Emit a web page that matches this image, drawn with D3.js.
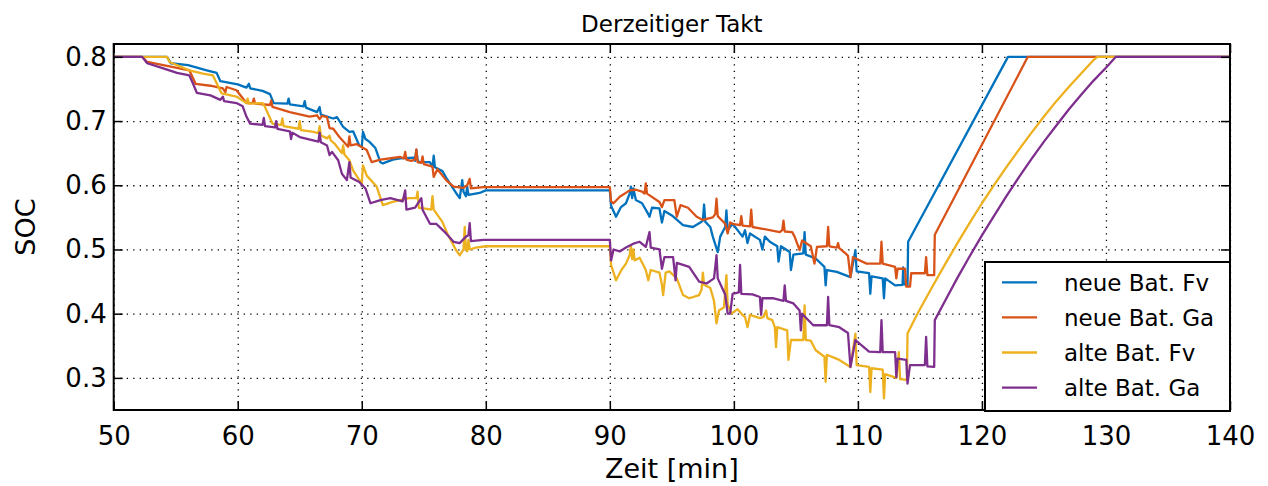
<!DOCTYPE html>
<html><head><meta charset="utf-8">
<script src="https://cdn.jsdelivr.net/npm/d3@7"></script>
<style>
html,body{margin:0;padding:0;background:#fff;}
text{font-family:"DejaVu Sans",sans-serif;fill:#000;}
</style></head>
<body><svg id="c" width="1268" height="486"></svg>
<script>
// ---- data ----
const title = "Derzeitiger Takt";
const xLabel = "Zeit [min]";
const yLabel = "SOC";
const xTicks = [50,60,70,80,90,100,110,120,130,140];
const yTicks = [0.3,0.4,0.5,0.6,0.7,0.8];
const seriesNames = ["neue Bat. Fv","neue Bat. Ga","alte Bat. Fv","alte Bat. Ga"];
const seriesColors = ["#0072BD","#D95319","#EDB120","#7E2F8E"];

const neueFv = [[50,0.8],[54.3,0.8],[54.6,0.79],[56,0.787],[57.5,0.779],[58.3,0.775],[58.6,0.762],[60,0.757],[60.7,0.752],[60.9,0.758],[61.0,0.751],[62,0.747],[62.6,0.742],[62.9,0.728],[64.0,0.727],[64.1,0.735],[64.2,0.726],[65.3,0.723],[65.4,0.731],[65.5,0.721],[66.4,0.714],[66.6,0.722],[66.7,0.71],[67.7,0.704],[68.0,0.706],[68.5,0.691],[69.0,0.683],[69.3,0.684],[69.8,0.662],[70.0,0.66],[70.1,0.683],[70.3,0.672],[70.6,0.668],[71.1,0.658],[71.5,0.636],[71.7,0.634],[72.5,0.64],[73.1,0.642],[74.2,0.643],[74.3,0.638],[74.4,0.655],[74.5,0.64],[74.6,0.636],[75.5,0.636],[75.7,0.628],[75.8,0.646],[75.9,0.628],[76.5,0.622],[76.8,0.612],[77.6,0.588],[77.9,0.58],[78.1,0.608],[78.2,0.59],[78.4,0.583],[78.5,0.598],[78.6,0.585],[79.5,0.588],[80,0.592],[90,0.592],
[90.1,0.568],[90.5,0.551],[90.9,0.566],[91.3,0.572],[91.6,0.587],[91.7,0.598],[91.8,0.58],[91.9,0.595],[92.1,0.577],[92.6,0.572],[93.1,0.555],[93.2,0.551],[93.4,0.565],[94.0,0.564],[94.2,0.542],[94.4,0.56],[95.0,0.553],[95.9,0.538],[96.7,0.535],[97.3,0.542],[97.5,0.545],[97.6,0.57],[97.7,0.543],[98.1,0.535],[98.3,0.52],[98.7,0.496],[98.9,0.52],[99.3,0.535],[99.4,0.561],[99.5,0.53],[99.9,0.54],[100.5,0.525],[100.7,0.52],[100.9,0.53],[101.1,0.51],[101.3,0.525],[102.1,0.515],[102.3,0.5],[102.5,0.52],[102.9,0.512],[103.5,0.505],[103.6,0.481],[103.8,0.505],[104.5,0.496],[104.6,0.468],[104.8,0.492],[105.6,0.494],[105.7,0.527],[105.8,0.492],[106.6,0.486],[107.3,0.473],[107.4,0.444],[107.5,0.468],[108.3,0.465],[109.4,0.457],[109.8,0.499],[109.9,0.466],[110.9,0.463],[111.0,0.431],[111.1,0.458],[112.0,0.455],[112.1,0.424],[112.2,0.455],[113.0,0.444],[113.6,0.445],[113.65,0.472],[113.7,0.446],[114.0,0.444],[114.05,0.512],[122.1,0.8],[140,0.8]];

const neueGa = [[50,0.8],[52.3,0.8],[52.7,0.792],[54,0.787],[56.1,0.779],[56.6,0.758],[57.8,0.755],[58.8,0.751],[59.0,0.745],[59.1,0.753],[59.9,0.748],[60.7,0.728],[61.2,0.728],[61.3,0.735],[61.4,0.727],[62.6,0.725],[62.7,0.732],[62.8,0.722],[64.2,0.714],[65.8,0.707],[66.4,0.709],[66.6,0.703],[66.8,0.708],[67.2,0.706],[67.4,0.689],[67.7,0.688],[68.2,0.675],[68.9,0.66],[69.0,0.676],[69.1,0.662],[69.6,0.664],[70.4,0.655],[70.8,0.636],[71.5,0.64],[73.1,0.644],[73.4,0.642],[73.5,0.652],[73.6,0.64],[74.0,0.638],[74.3,0.64],[74.4,0.656],[74.5,0.636],[74.8,0.635],[74.9,0.645],[75.0,0.633],[75.7,0.629],[75.8,0.613],[76.1,0.625],[76.8,0.608],[77.4,0.598],[78.2,0.596],[78.5,0.6],[78.7,0.61],[78.8,0.595],[79.8,0.597],[90,0.597],
[90.1,0.575],[90.3,0.572],[90.8,0.582],[91.6,0.592],[92.1,0.593],[92.6,0.59],[92.8,0.587],[92.9,0.603],[93.0,0.587],[94.0,0.574],[94.2,0.566],[94.4,0.577],[95.2,0.577],[95.4,0.551],[95.7,0.569],[96.3,0.565],[97.0,0.551],[97.5,0.546],[98.3,0.55],[98.5,0.555],[98.6,0.579],[98.7,0.552],[99.3,0.54],[99.5,0.525],[99.7,0.542],[99.9,0.54],[100.5,0.538],[100.6,0.552],[100.7,0.537],[101.3,0.536],[101.4,0.562],[101.5,0.535],[102.1,0.533],[103.7,0.527],[103.9,0.53],[104.0,0.545],[104.1,0.528],[104.7,0.527],[104.9,0.52],[105.3,0.499],[105.5,0.514],[106.2,0.505],[106.5,0.478],[106.7,0.504],[107.5,0.505],[107.6,0.535],[107.7,0.505],[108.3,0.503],[108.4,0.51],[108.5,0.502],[109.0,0.494],[109.2,0.49],[109.4,0.457],[109.6,0.488],[110.7,0.478],[111.8,0.478],[111.9,0.512],[112.0,0.478],[113.0,0.473],[113.1,0.455],[113.2,0.47],[113.8,0.47],[113.9,0.442],[114.2,0.442],[114.3,0.463],[115.4,0.463],[115.5,0.488],[115.6,0.46],[116.15,0.46],[116.2,0.523],[123.7,0.8],[140,0.8]];

const alteFv = [[50,0.8],[54.3,0.8],[54.5,0.792],[56.1,0.779],[57.2,0.774],[58.0,0.771],[58.7,0.743],[59.9,0.738],[60.7,0.728],[60.8,0.735],[60.9,0.727],[62.0,0.728],[62.2,0.722],[62.8,0.696],[63.5,0.694],[63.6,0.704],[63.7,0.692],[64.9,0.688],[65.0,0.7],[65.1,0.686],[66.1,0.683],[66.5,0.681],[66.6,0.692],[66.7,0.678],[67.2,0.673],[67.4,0.677],[67.5,0.67],[67.8,0.665],[68.4,0.65],[68.5,0.662],[68.6,0.648],[69.0,0.639],[69.3,0.623],[69.7,0.611],[70.0,0.603],[70.1,0.631],[70.4,0.615],[71.2,0.598],[71.7,0.569],[72.5,0.574],[73.1,0.577],[73.8,0.58],[74.4,0.58],[74.5,0.59],[74.6,0.565],[75.0,0.564],[75.6,0.562],[75.7,0.583],[75.8,0.562],[76.5,0.543],[76.9,0.525],[77.6,0.499],[77.9,0.491],[78.2,0.5],[78.3,0.535],[78.4,0.5],[78.5,0.497],[78.6,0.515],[78.7,0.5],[79.2,0.503],[80,0.505],[90,0.505],
[90.1,0.476],[90.5,0.452],[90.9,0.467],[91.3,0.478],[91.6,0.491],[91.7,0.505],[91.8,0.485],[91.9,0.5],[92.0,0.483],[92.4,0.487],[92.9,0.468],[93.1,0.452],[93.3,0.468],[94.0,0.464],[94.2,0.445],[94.3,0.429],[94.5,0.464],[94.8,0.466],[95.4,0.455],[95.9,0.429],[96.4,0.424],[97.2,0.429],[97.4,0.438],[97.5,0.464],[97.6,0.445],[98.1,0.44],[98.4,0.42],[98.6,0.385],[98.8,0.405],[99.2,0.41],[99.4,0.46],[99.5,0.415],[99.8,0.4],[100.3,0.407],[100.7,0.398],[100.9,0.395],[101.1,0.379],[101.3,0.398],[102.1,0.393],[102.4,0.395],[102.6,0.405],[102.7,0.393],[103.1,0.39],[103.3,0.379],[103.4,0.348],[103.5,0.379],[104.3,0.374],[104.4,0.328],[104.6,0.359],[105.6,0.359],[105.7,0.413],[105.8,0.359],[106.2,0.358],[106.6,0.343],[107.3,0.333],[107.4,0.294],[107.5,0.336],[108.5,0.328],[109.4,0.317],[109.8,0.369],[109.9,0.32],[110.9,0.317],[111.0,0.278],[111.1,0.315],[112.0,0.313],[112.1,0.268],[112.2,0.306],[113.1,0.3],[113.3,0.34],[113.4,0.298],[113.95,0.297],[114.0,0.369],[114.8,0.400],[116,0.442],[117,0.476],[118,0.509],[119,0.541],[120,0.572],[121,0.601],[122,0.629],[123,0.656],[124,0.682],[125,0.707],[126,0.731],[127,0.753],[128,0.774],[129,0.795],[129.3,0.8],[140,0.8]];

const alteGa = [[50,0.8],[52.3,0.8],[52.7,0.79],[54,0.782],[55.1,0.775],[56.1,0.771],[56.4,0.758],[56.7,0.744],[57.8,0.74],[58.6,0.733],[58.8,0.738],[58.9,0.731],[59.9,0.728],[60.4,0.723],[60.7,0.707],[61.0,0.696],[62.0,0.694],[62.1,0.705],[62.2,0.692],[63.0,0.69],[63.1,0.7],[63.2,0.688],[64.2,0.684],[64.3,0.672],[64.4,0.682],[65.0,0.675],[66.5,0.668],[66.6,0.682],[66.7,0.667],[67.2,0.662],[67.4,0.647],[67.6,0.652],[68.1,0.639],[68.4,0.618],[68.8,0.608],[69.0,0.636],[69.1,0.612],[69.8,0.605],[70.3,0.595],[70.7,0.572],[71.5,0.577],[72.3,0.58],[73.3,0.575],[73.5,0.592],[73.6,0.562],[74.3,0.565],[74.8,0.58],[74.9,0.562],[75.5,0.54],[76.0,0.54],[76.8,0.525],[77.4,0.512],[77.9,0.51],[78.4,0.52],[78.6,0.522],[78.7,0.541],[78.8,0.513],[79.8,0.515],[90,0.515],
[90.1,0.483],[90.3,0.5],[90.8,0.497],[91.3,0.503],[91.9,0.509],[92.4,0.512],[92.9,0.504],[93.2,0.527],[93.3,0.503],[94.0,0.5],[94.2,0.47],[94.4,0.488],[95.1,0.488],[95.3,0.452],[95.4,0.479],[96.4,0.473],[97.2,0.45],[97.8,0.447],[98.4,0.455],[98.6,0.491],[98.7,0.455],[99.3,0.43],[99.5,0.40],[99.7,0.40],[99.9,0.431],[100.4,0.433],[100.5,0.476],[100.6,0.431],[101.5,0.43],[102.1,0.426],[102.2,0.398],[102.3,0.424],[103.2,0.424],[104.0,0.42],[104.1,0.444],[104.2,0.42],[104.8,0.416],[105.3,0.405],[105.4,0.374],[105.5,0.4],[106.4,0.382],[107.5,0.382],[107.6,0.426],[107.7,0.382],[108.5,0.379],[109.2,0.37],[109.4,0.317],[109.8,0.359],[110.9,0.341],[111.8,0.34],[111.9,0.39],[112.0,0.34],[113.0,0.34],[113.1,0.301],[113.2,0.33],[113.9,0.328],[114.0,0.291],[114.2,0.32],[115.4,0.32],[115.5,0.364],[115.6,0.318],[116.15,0.317],[116.2,0.39],[117,0.419],[118,0.455],[119,0.489],[120,0.522],[121,0.553],[122,0.584],[123,0.613],[124,0.641],[125,0.668],[126,0.693],[127,0.718],[128,0.741],[129,0.763],[130,0.783],[130.8,0.8],[140,0.8]];

const seriesData = [neueFv, neueGa, alteFv, alteGa];

// ---- layout ----
const L = 113.7, R = 1230, T = 44, B = 410;
const svg = d3.select("#c");
const x = d3.scaleLinear().domain([50,140]).range([L,R]);
const y = d3.scaleLinear().domain([0.25,0.82]).range([B,T]);

svg.append("defs").append("clipPath").attr("id","clip")
  .append("rect").attr("x",L).attr("y",T).attr("width",R-L).attr("height",B-T);

// grid
const grid = svg.append("g");
grid.append("g").attr("transform",`translate(0,${B})`)
  .call(d3.axisBottom(x).tickValues(xTicks).tickSize(-(B-T)).tickFormat(""));
grid.append("g").attr("transform",`translate(${L},0)`)
  .call(d3.axisLeft(y).tickValues(yTicks).tickSize(-(R-L)).tickFormat(""));
grid.selectAll(".domain").remove();
grid.selectAll("line").attr("stroke","#000").attr("stroke-width",1.3).attr("stroke-dasharray","1.3,5.2");

// lines
const line = d3.line().x(d=>x(d[0])).y(d=>y(d[1]));
const lg = svg.append("g").attr("clip-path","url(#clip)");
seriesData.forEach((s,i)=>{
  lg.append("path").datum(s).attr("d",line).attr("fill","none")
    .attr("stroke",seriesColors[i]).attr("stroke-width",2.3).attr("stroke-linejoin","round");
});

// axes (inward ticks)
const tk = 9;
const fs = 26;
const ax = svg.append("g");
const xb = ax.append("g").attr("transform",`translate(0,${B})`)
  .call(d3.axisBottom(x).tickValues(xTicks).tickSize(-tk).tickPadding(10).tickFormat(d3.format("d")));
ax.append("g").attr("transform",`translate(0,${T})`)
  .call(d3.axisTop(x).tickValues(xTicks).tickSize(-tk).tickFormat(""));
ax.append("g").attr("transform",`translate(${L},0)`)
  .call(d3.axisLeft(y).tickValues(yTicks).tickSize(-tk).tickPadding(7).tickFormat(d3.format(".1f")));
ax.append("g").attr("transform",`translate(${R},0)`)
  .call(d3.axisRight(y).tickValues(yTicks).tickSize(-tk).tickFormat(""));
ax.selectAll(".domain").remove();
ax.selectAll("line").attr("stroke","#000").attr("stroke-width",1.5);
ax.selectAll("text").attr("font-family","DejaVu Sans").attr("font-size",fs).attr("fill","#000");
xb.selectAll("text").attr("dy","0.95em");
svg.append("rect").attr("x",L).attr("y",T).attr("width",R-L).attr("height",B-T)
  .attr("fill","none").attr("stroke","#000").attr("stroke-width",2);

// labels
svg.append("text").attr("x",(L+R)/2).attr("y",32).attr("text-anchor","middle")
  .attr("font-size",23).text(title);
svg.append("text").attr("x",(L+R)/2).attr("y",478).attr("text-anchor","middle")
  .attr("font-size",27).text(xLabel);
svg.append("text").attr("transform",`translate(35,${(T+B)/2}) rotate(-90)`).attr("text-anchor","middle")
  .attr("font-size",27).text(yLabel);

// legend
const lgx = 985, lgy = 262, lgw = R-985, lgh = 149;
const leg = svg.append("g");
leg.append("rect").attr("x",lgx).attr("y",lgy).attr("width",lgw).attr("height",lgh)
  .attr("fill","#fff").attr("stroke","#000").attr("stroke-width",2);
seriesNames.forEach((n,i)=>{
  const yy = 282.3 + i*35.1;
  leg.append("line").attr("x1",1002).attr("x2",1037).attr("y1",yy).attr("y2",yy)
    .attr("stroke",seriesColors[i]).attr("stroke-width",2.3);
  leg.append("text").attr("x",1064).attr("y",yy).attr("dy","0.36em")
    .attr("font-size",23).text(n);
});
</script></body></html>
